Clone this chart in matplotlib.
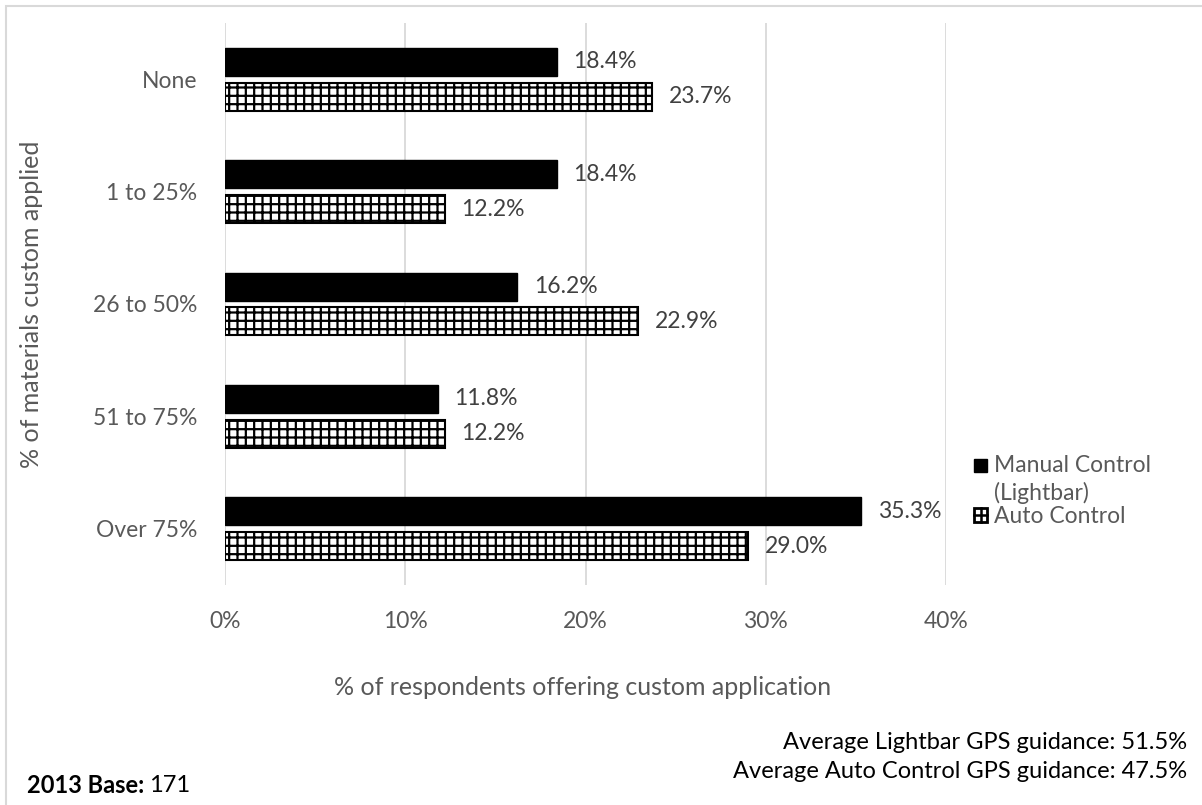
import matplotlib
matplotlib.use("Agg")
import matplotlib.pyplot as plt
from matplotlib.patches import Patch, Rectangle
from matplotlib.lines import Line2D
from matplotlib.legend_handler import HandlerBase
import numpy as np

# Survey data
categories = ["None", "1 to 25%", "26 to 50%", "51 to 75%", "Over 75%"]
manual_control = [18.4, 18.4, 16.2, 11.8, 35.3]
auto_control = [23.7, 12.2, 22.9, 12.2, 29.0]
series_names = ["Manual Control\n(Lightbar)", "Auto Control"]
x_ticks = [0, 10, 20, 30, 40]
x_tick_labels = ["0%", "10%", "20%", "30%", "40%"]

FONT = "Lato"
GREY_TEXT = "#595959"
LABEL_TEXT = "#404040"
GRID = "#d9d9d9"
FS_TICK = 16.5
FS_TITLE = 18
FS_NOTE = 17

plt.rcParams["font.family"] = [FONT, "DejaVu Sans"]
plt.rcParams["hatch.linewidth"] = 1.6
plt.rcParams["hatch.color"] = "black"

W, H = 1202, 805
fig = plt.figure(figsize=(W / 100, H / 100), dpi=100)
fig.patch.set_facecolor("white")

ax = fig.add_axes([225 / W, 1 - 585 / H, (946 - 225) / W, (585 - 23) / H])

y = np.arange(len(categories))
bar_h = 0.25
off = 0.155

b1 = ax.barh(y - off, manual_control, height=bar_h, color="black",
             edgecolor="black", linewidth=1.0, label=series_names[0], zorder=3)
b2 = ax.barh(y + off, auto_control, height=bar_h, color="white",
             edgecolor="black", linewidth=1.5, hatch="++",
             label=series_names[1], zorder=3)

for bars, vals in ((b1, manual_control), (b2, auto_control)):
    ax.bar_label(bars, labels=[f"{v:.1f}%" for v in vals], padding=12,
                 fontsize=FS_TICK, color=LABEL_TEXT)

ax.set_ylim(len(categories) - 0.5, -0.5)
ax.set_xlim(0, 40)
ax.set_xticks(x_ticks)
ax.set_xticklabels(x_tick_labels)
ax.set_yticks(y)
ax.set_yticklabels(categories)
ax.tick_params(axis="both", length=0, labelsize=FS_TICK, labelcolor=GREY_TEXT)
ax.tick_params(axis="x", pad=19)
ax.tick_params(axis="y", pad=20)
ax.grid(axis="x", color=GRID, linewidth=1.3, zorder=0)
ax.set_axisbelow(True)
for s in ax.spines.values():
    s.set_visible(False)

# Axis titles
fig.text(583 / W, 1 - 687 / H, "% of respondents offering custom application",
         ha="center", va="center", fontsize=FS_TITLE, color=GREY_TEXT)
fig.text(32 / W, 1 - 304 / H, "% of materials custom applied",
         ha="center", va="center", rotation=90, fontsize=FS_TITLE,
         color=GREY_TEXT)


class SolidSquareHandler(HandlerBase):
    """Legend key: solid black square level with the first label line."""

    def __init__(self, lift=0.0):
        super().__init__()
        self.lift = lift

    def create_artists(self, legend, orig_handle, xdescent, ydescent,
                       width, height, fontsize, trans):
        s = min(width, height)
        x0 = -xdescent + (width - s) / 2
        y0 = -ydescent + (height - s) / 2 + self.lift * fontsize
        return [Rectangle((x0, y0), s, s, facecolor="black",
                          edgecolor="black", linewidth=1.0, transform=trans)]


class GridSquareHandler(HandlerBase):
    """Legend key: white square with a black border and a centred cross."""

    def create_artists(self, legend, orig_handle, xdescent, ydescent,
                       width, height, fontsize, trans):
        s = min(width, height)
        x0 = -xdescent + (width - s) / 2
        y0 = -ydescent + (height - s) / 2
        sq = Rectangle((x0, y0), s, s, facecolor="white", edgecolor="black",
                       linewidth=2.0, transform=trans)
        h = Line2D([x0, x0 + s], [y0 + s / 2] * 2, color="black",
                   linewidth=1.8, transform=trans)
        v = Line2D([x0 + s / 2] * 2, [y0, y0 + s], color="black",
                   linewidth=1.8, transform=trans)
        return [sq, h, v]


# Legend
handles = [Patch(facecolor="black", edgecolor="black", label=series_names[0]),
           Patch(facecolor="white", edgecolor="black", label=series_names[1])]
leg = fig.legend(handles=handles, loc="center left",
                 bbox_to_anchor=(953 / W, 1 - 491 / H), frameon=False,
                 fontsize=FS_TICK, labelcolor=GREY_TEXT, handlelength=0.6,
                 handleheight=0.6, handletextpad=0.3, labelspacing=0.1,
                 handler_map={handles[0]: SolidSquareHandler(lift=0.62),
                              handles[1]: GridSquareHandler()})
for t in leg.get_texts():
    t.set_linespacing(1.3)

# Footnotes
fig.text(1187 / W, 1 - 742 / H, "Average Lightbar GPS guidance: 51.5%",
         ha="right", va="center", fontsize=FS_NOTE, color="black")
fig.text(1187 / W, 1 - 771 / H, "Average Auto Control GPS guidance: 47.5%",
         ha="right", va="center", fontsize=FS_NOTE, color="black")
t_bold = fig.text(27 / W, 1 - 785 / H, "2013 Base:", ha="left", va="center",
                  fontsize=FS_NOTE, fontweight="bold", color="black")
fig.canvas.draw()
bb = t_bold.get_window_extent(fig.canvas.get_renderer())
fig.text((bb.x1 + 5) / W, 1 - 785 / H, "171", ha="left", va="center",
         fontsize=FS_NOTE, color="black")

# Outer frame
fig.patches.append(Rectangle((6 / W, -0.05), 1.2, 1 - 6 / H + 0.05,
                             transform=fig.transFigure, fill=False,
                             edgecolor=GRID, linewidth=1.5))

fig.savefig("out.png", dpi=100, facecolor="white")
